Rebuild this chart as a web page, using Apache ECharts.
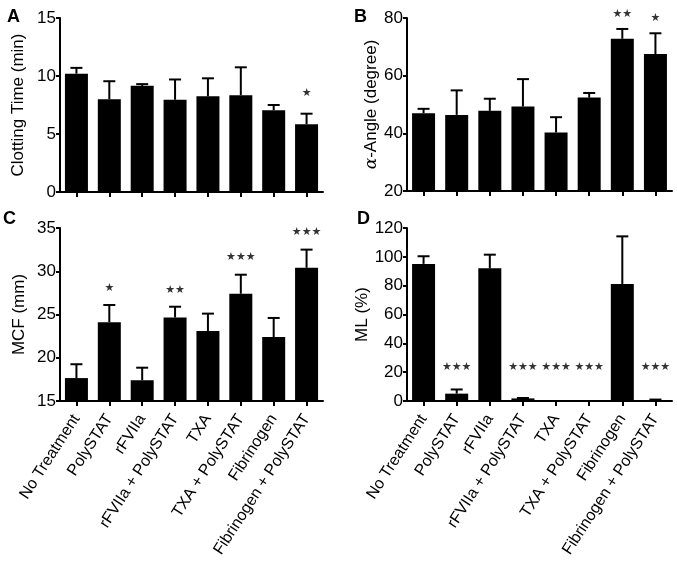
<!DOCTYPE html>
<html>
<head>
<meta charset="utf-8">
<script src="https://cdn.jsdelivr.net/npm/echarts@6/dist/echarts.min.js"></script>
<style>
html,body{margin:0;padding:0;background:#fff;}
#chart{width:677px;height:573px;}
</style>
</head>
<body>
<div id="chart"></div>
<script>
// ---- data ----
const categories = ['No Treatment', 'PolySTAT', 'rFVIIa', 'rFVIIa + PolySTAT', 'TXA', 'TXA + PolySTAT', 'Fibrinogen', 'Fibrinogen + PolySTAT'];

const clotMean = [10.2, 8.0, 9.15, 7.95, 8.25, 8.35, 7.05, 5.85];
const clotSD   = [0.5, 1.55, 0.15, 1.75, 1.55, 2.4, 0.45, 0.9];
const clotStars = ['', '', '', '', '', '', '', '★'];
const clotStarY = [null, null, null, null, null, null, null, 8.5];

const alphaMean = [47.0, 46.4, 47.8, 49.3, 40.3, 52.4, 72.8, 67.5];
const alphaSD   = [1.5, 8.5, 4.2, 9.5, 5.3, 1.6, 3.4, 7.2];
const alphaStars = ['', '', '', '', '', '', '★★', '★'];
const alphaStarY = [null, null, null, null, null, null, 81.5, 80];

const mcfMean = [17.65, 24.1, 17.4, 24.65, 23.1, 27.4, 22.4, 30.4];
const mcfSD   = [1.6, 2.0, 1.45, 1.25, 2.0, 2.2, 2.2, 2.1];
const mcfStars = ['', '★', '', '★★', '', '★★★', '', '★★★'];
const mcfStarY = [null, 28.0, null, 27.8, null, 31.65, null, 34.5];

const mlMean = [95.1, 5.1, 92.0, 1.8, 0, 0, 81.2, 0.5];
const mlSD   = [5.3, 2.9, 9.5, 0.3, 0, 0, 33, 0.5];
const mlStars = ['', '★★★', '', '★★★', '★★★', '★★★', '', '★★★'];
const mlStarY = [null, 23.5, null, 23.5, 23.5, 23.5, null, 23.5];

const yTitles = ['Clotting Time (min)', '{g|α}-Angle (degree)', 'MCF (mm)', 'ML (%)'];
const panelLetters = ['A', 'B', 'C', 'D'];
const yRanges = [[0, 15, 5], [20, 80, 20], [15, 35, 5], [0, 120, 20]];

// ---- chart ----
const FONT = '"Liberation Sans", Arial, Helvetica, sans-serif';
const panels = [
  {mean: clotMean, sd: clotSD, stars: clotStars, starY: clotStarY},
  {mean: alphaMean, sd: alphaSD, stars: alphaStars, starY: alphaStarY},
  {mean: mcfMean, sd: mcfSD, stars: mcfStars, starY: mcfStarY},
  {mean: mlMean, sd: mlSD, stars: mlStars, starY: mlStarY}
];
const grids = [
  {left: 60, right: 354, top: 18, bottom: 381},
  {left: 407, right: 5, top: 18, bottom: 382},
  {left: 60, right: 354, top: 228, bottom: 172},
  {left: 407, right: 5, top: 228, bottom: 172}
];
const nameGaps = [33, 26, 32, 29];

const xAxes = [], yAxes = [], series = [];
panels.forEach((p, i) => {
  xAxes.push({
    type: 'category', gridIndex: i, data: categories,
    axisLine: {lineStyle: {color: '#000', width: 2}},
    axisTick: {show: true, alignWithLabel: true, interval: 0, length: 5, lineStyle: {color: '#000', width: 2}},
    axisLabel: {show: i >= 2, interval: 0, rotate: 57, margin: 15, color: '#000', fontSize: 16, fontFamily: FONT}
  });
  yAxes.push({
    type: 'value', gridIndex: i, min: yRanges[i][0], max: yRanges[i][1], interval: yRanges[i][2],
    name: yTitles[i], nameLocation: 'middle', nameGap: nameGaps[i],
    nameTextStyle: {color: '#000', fontSize: 17, fontFamily: FONT,
      rich: {g: {fontSize: 17, fontStyle: 'italic', fontFamily: '"DejaVu Serif", serif', color: '#000'}}},
    axisLine: {show: true, lineStyle: {color: '#000', width: 2}},
    axisTick: {show: true, length: 4, lineStyle: {color: '#000', width: 2}},
    axisLabel: {margin: 4, color: '#000', fontSize: 17, fontFamily: FONT},
    splitLine: {show: false}
  });
  series.push({
    type: 'bar', xAxisIndex: i, yAxisIndex: i, data: p.mean, barWidth: 23,
    itemStyle: {color: '#000'}, clip: true, silent: true
  });
  series.push({
    type: 'custom', xAxisIndex: i, yAxisIndex: i,
    data: p.mean.map((m, k) => [k, m, p.sd[k]]),
    renderItem: function (params, api) {
      const x = api.value(0), m = api.value(1), sd = api.value(2);
      if (!sd) return null;
      const p0 = api.coord([x, m]);
      const p1 = api.coord([x, m + sd]);
      const hw = 6;
      return {type: 'group', children: [
        {type: 'line', shape: {x1: p0[0], y1: p0[1], x2: p1[0], y2: p1[1]}, style: {stroke: '#000', lineWidth: 2}},
        {type: 'line', shape: {x1: p1[0] - hw, y1: p1[1], x2: p1[0] + hw, y2: p1[1]}, style: {stroke: '#000', lineWidth: 2}}
      ]};
    },
    z: 3, silent: true
  });
  series.push({
    type: 'scatter', xAxisIndex: i, yAxisIndex: i, symbolSize: 0, clip: false, silent: true,
    data: p.starY.map((y, k) => y == null ? null : {value: [k, y], label: {formatter: p.stars[k]}}).filter(d => d),
    label: {show: true, position: 'inside', offset: [0, 0], color: '#000', fontSize: 11, fontFamily: '"DejaVu Sans", sans-serif'},
    z: 4
  });
});

const letterPos = [[7, 8], [354, 8], [3, 210], [357, 210]];
const chart = echarts.init(document.getElementById('chart'), null, {renderer: 'canvas'});
chart.setOption({
  animation: false,
  backgroundColor: '#fff',
  grid: grids,
  xAxis: xAxes,
  yAxis: yAxes,
  series: series,
  graphic: panelLetters.map((t, i) => ({
    type: 'text', left: letterPos[i][0], top: letterPos[i][1],
    style: {text: t, font: 'bold 18px ' + FONT, fill: '#000'}
  }))
});
</script>
</body>
</html>
